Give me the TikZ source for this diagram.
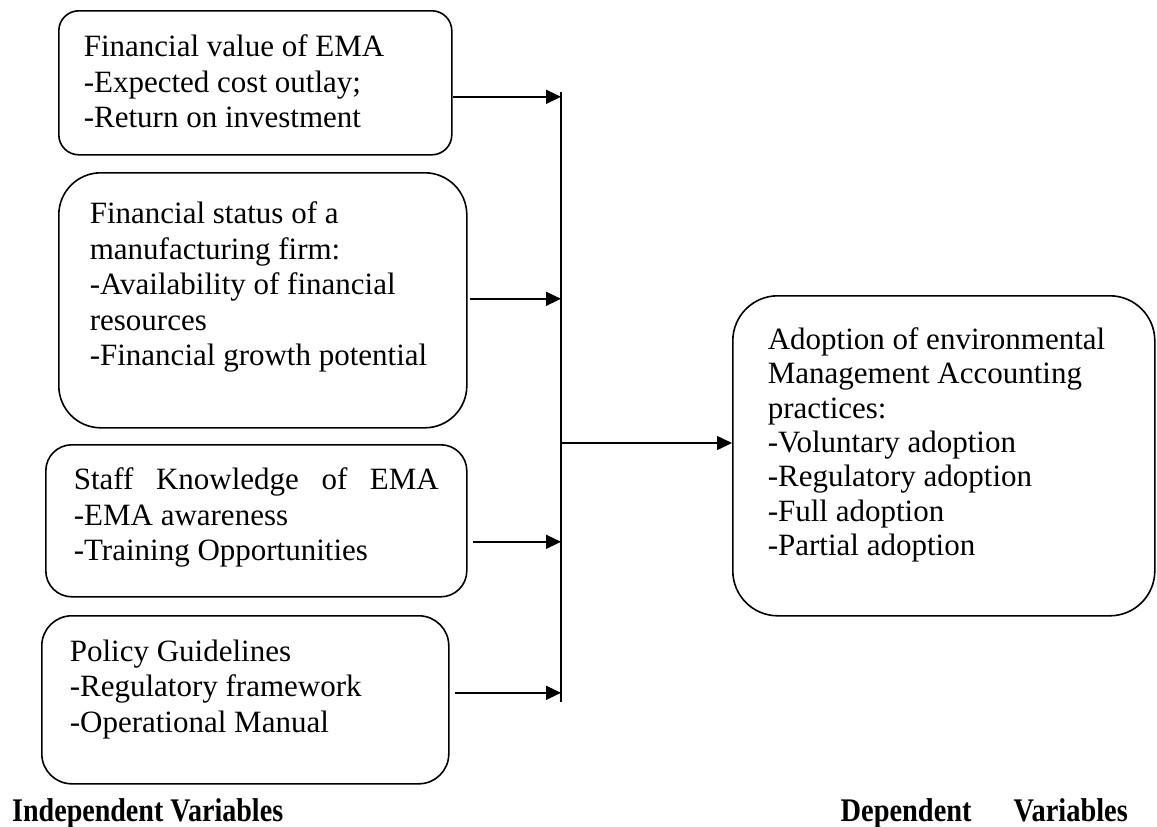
\documentclass[tikz,border=0pt]{standalone}
\usepackage{fontspec}
\setmainfont{Liberation Serif}
\usepackage{graphicx}
\usepackage{tikz}
\usetikzlibrary{arrows.meta, calc}

\newcommand{\boxtext}[3]{\begin{minipage}[t][#2][t]{#1}#3\end{minipage}}

\begin{document}
\begin{tikzpicture}[x=1pt, y=-1pt, font=\fontsize{31pt}{35.5pt}\selectfont,
        box/.style={draw, line width=1.6pt, anchor=north west},
        arr/.style={-{Triangle[length=15pt,width=14pt]}, line width=1.6pt},
        lbl/.style={inner sep=0pt, font=\fontsize{33pt}{38pt}\selectfont\bfseries}]
        \useasboundingbox (0,0) rectangle (1157,827);
        % Independent variables
        \node[box, rounded corners=20pt, inner xsep=25pt, inner ysep=24pt] (value)
          at (58,10) {\boxtext{343pt}{96pt}{Financial value of EMA\\
            -Expected cost outlay;\\-Return on investment}};
        \node[box, rounded corners=42pt, inner xsep=31pt, inner ysep=29pt] (status)
          at (58,172) {\boxtext{346pt}{197pt}{Financial status of a\\
            manufacturing firm:\\-Availability of financial\\resources\\
            -Financial growth potential}};
        \node[box, rounded corners=26pt, inner xsep=28pt, inner ysep=23pt] (staff)
          at (45,444) {\boxtext{365pt}{106pt}{Staff\hfill Knowledge\hfill of\hfill EMA\\
            -EMA awareness\\-Training Opportunities}};
        \node[box, rounded corners=30pt, inner xsep=28pt, inner ysep=24pt] (policy)
          at (41,615) {\boxtext{351pt}{120pt}{Policy Guidelines\\
            -Regulatory framework\\-Operational Manual}};
        % Dependent variable
        \node[box, rounded corners=45pt, inner xsep=35pt, inner ysep=32pt] (adopt)
          at (732,295) {\boxtext{352pt}{256pt}{\fontsize{31pt}{34.3pt}\selectfont
            Adoption of environmental\\
            Management Accounting\\practices:\\-Voluntary adoption\\
            -Regulatory adoption\\-Full adoption\\-Partial adoption}};
        % Collecting bar
        \coordinate (bartop) at (561,92);
        \coordinate (barbot) at (561,702);
        \draw[line width=1.6pt] (bartop) -- (barbot);
        \coordinate (valueout) at ($(value.east)+(0,14)$);
        \coordinate (statusout) at ($(status.east)+(2,-1.5)$);
        \coordinate (staffout) at ($(staff.east)+(5,21)$);
        \coordinate (policyout) at ($(policy.east)+(5,-7)$);
        \draw[arr] (valueout) -- (valueout -| bartop);
        \draw[arr] (statusout) -- (statusout -| bartop);
        \draw[arr] (staffout) -- (staffout -| bartop);
        \draw[arr] (policyout) -- (policyout -| bartop);
        \coordinate (join) at (561,443);
        \draw[arr] (join) -- (join -| adopt.west);
        % Captions
        \node[lbl, anchor=base west] (indep) at (12,821)
          {\scalebox{0.85}[1]{Independent Variables}};
        \node[lbl, anchor=base east] (dep) at (1128,821)
          {\scalebox{0.86}[1]{Dependent\hspace{49pt}Variables}};
\end{tikzpicture}
\end{document}
